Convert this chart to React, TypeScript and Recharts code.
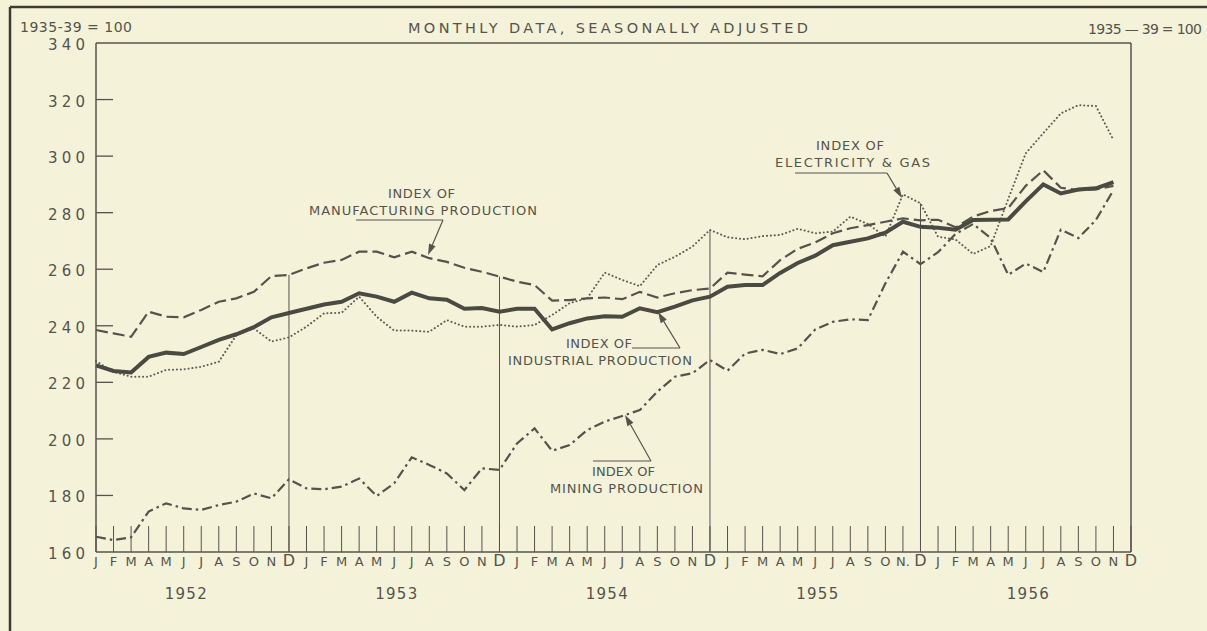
import React from "react";
import { LineChart, Line, XAxis, YAxis, ReferenceLine } from "recharts";

// 1935-39 = 100, monthly, seasonally adjusted (Jan 1952 - Dec 1956)
const YEARS = [1952, 1953, 1954, 1955, 1956];
const MONTH_LETTERS = ["J", "F", "M", "A", "M", "J", "J", "A", "S", "O", "N", "D"];
const Y_TICKS = [160, 180, 200, 220, 240, 260, 280, 300, 320, 340];

const industrial = [
  226, 224, 223.5, 229, 230.5, 230, 232.5, 235, 237, 239.5, 243, 244.5,
  246, 247.5, 248.5, 251.5, 250.3, 248.5, 251.7, 249.7, 249.2, 246, 246.3, 245,
  246, 246, 238.7, 240.9, 242.6, 243.4, 243.2, 246.2, 244.8, 246.8, 249, 250.3,
  253.8, 254.4, 254.4, 258.7, 262.2, 264.8, 268.5, 269.7, 270.9, 272.9, 276.8, 275,
  274.7, 274, 277.4, 277.5, 277.6, 284, 290, 286.8, 288.2, 288.6, 290.8, null,
];

const manufacturing = [
  238.5, 237.3, 236.1, 245, 243.2, 243, 245.6, 248.5, 249.7, 252, 257.6, 258,
  260.3, 262.3, 263.3, 266.2, 266.2, 264.2, 266.2, 263.9, 262.6, 260.5, 259.1, 257.4,
  255.6, 254.4, 248.9, 249.1, 249.7, 250, 249.4, 252, 250, 251.5, 252.6, 253.2,
  258.8, 258.1, 257.5, 263.2, 267.2, 269.5, 272.7, 274.5, 275.6, 276.8, 278, 277.3,
  277.5, 274.8, 278.6, 280.6, 281.6, 289.5, 295, 288.8, 288, 288.2, 289.5, null,
];

const electricity = [
  227.5, 223.7, 222, 222, 224.4, 224.6, 225.5, 227.3, 236.7, 239.1, 234.4, 235.9,
  239.7, 244.4, 244.6, 250.3, 243.2, 238.3, 238.3, 237.9, 242, 239.7, 239.7, 240.3,
  239.7, 240.3, 243.8, 248, 249.7, 258.8, 256.2, 254, 261.5, 264.4, 268, 273.9,
  271.3, 270.6, 271.7, 272.1, 274.3, 272.7, 273.3, 278.6, 276, 271.5, 286.5, 283.3,
  271.5, 270.5, 265.4, 268.2, 284.8, 301, 308.1, 315.1, 318, 317.7, 305.7, null,
];

const mining = [
  165.4, 164.2, 165.2, 174.3, 177.2, 175.4, 174.9, 176.6, 177.8, 180.7, 179, 185.7,
  182.5, 182.2, 183.1, 186, 179.8, 184.3, 193.5, 190.8, 187.8, 181.9, 189.6, 189,
  198.4, 203.7, 195.8, 197.8, 203.1, 206.1, 208.1, 210.2, 216.7, 222, 223.2, 227.9,
  224.1, 230.2, 231.5, 230, 232, 238.7, 241.4, 242.3, 242, 255, 266.2, 261.8,
  266, 272.5, 276, 271, 258, 262, 259, 274, 271, 277.4, 288, null,
];

const months = YEARS.flatMap((y) => MONTH_LETTERS.map((_, i) => `${y}-${i + 1}`));

const data = months.map((m, i) => ({
  month: m,
  industrial: industrial[i],
  manufacturing: manufacturing[i],
  electricity: electricity[i],
  mining: mining[i],
}));

const BG = "#f4f3da";
const INK = "#54544c";
const FONT = "'DejaVu Sans', sans-serif";

// December guide lines run from the base up to the highest series that month
const decemberLines = YEARS.slice(0, 4).map((y) => {
  const i = months.indexOf(`${y}-12`);
  const top = Math.max(industrial[i] ?? 0, manufacturing[i] ?? 0, electricity[i] ?? 0, mining[i] ?? 0);
  return { month: months[i], top };
});

function monthLabel(value: string) {
  if (value === "1955-11") return "N.";
  const mi = Number(value.split("-")[1]) - 1;
  return MONTH_LETTERS[mi];
}

function MonthTick(props: any) {
  const { x, y, payload } = props;
  const value: string = payload.value;
  const [year, mo] = value.split("-");
  const isDec = mo === "12";
  return (
    <g>
      <line x1={x} x2={x} y1={y} y2={y - 26} stroke={INK} strokeWidth={1} />
      <text
        x={x}
        y={y + 14}
        textAnchor="middle"
        fontFamily={FONT}
        fontSize={isDec ? 16 : 13}
        fill={INK}
      >
        {monthLabel(value)}
      </text>
      {mo === "6" && (
        <text x={x + 2} y={y + 47} textAnchor="middle" fontFamily={FONT} fontSize={15} fill={INK} textLength={42} lengthAdjust="spacing">
          {year}
        </text>
      )}
    </g>
  );
}

function LeftTick(props: any) {
  const { x, y, payload } = props;
  const v = payload.value;
  return (
    <g>
      {v > 160 && v < 340 && <line x1={x} x2={x + 17} y1={y} y2={y} stroke={INK} strokeWidth={1.3} />}
      <text x={x - 48} y={y + 7} fontFamily={FONT} fontSize={15} fill={INK} textLength={37} lengthAdjust="spacing">
        {v}
      </text>
    </g>
  );
}

function RightTick(props: any) {
  const { x, y, payload } = props;
  const v = payload.value;
  return (
    <g>
      {v > 160 && v < 340 && <line x1={x - 17} x2={x} y1={y} y2={y} stroke={INK} strokeWidth={1.3} />}
      <text x={x + 11} y={y + 7} fontFamily={FONT} fontSize={15} fill={INK} textLength={38} lengthAdjust="spacing">
        {v}
      </text>
    </g>
  );
}

function Arrow({ x1, y1, x2, y2 }: { x1: number; y1: number; x2: number; y2: number }) {
  const a = Math.atan2(y2 - y1, x2 - x1);
  const len = 11;
  const w = 3.5;
  const bx = x2 - len * Math.cos(a);
  const by = y2 - len * Math.sin(a);
  const px = -Math.sin(a) * w;
  const py = Math.cos(a) * w;
  return (
    <g>
      <line x1={x1} y1={y1} x2={bx} y2={by} stroke={INK} strokeWidth={1.2} />
      <polygon points={`${x2},${y2} ${bx + px},${by + py} ${bx - px},${by - py}`} fill={INK} />
    </g>
  );
}

function Label({ x, y, w, children, size = 13 }: any) {
  return (
    <text x={x} y={y} fontFamily={FONT} fontSize={size} fill={INK} textLength={w} lengthAdjust="spacing">
      {children}
    </text>
  );
}

function Overlay() {
  return (
    <svg width={1207} height={631} style={{ position: "absolute", left: 0, top: 0, pointerEvents: "none" }}>
      {/* page frame */}
      <line x1={10} y1={7} x2={10} y2={631} stroke="#3c3c36" strokeWidth={2.5} />
      <line x1={10} y1={7} x2={1207} y2={7} stroke="#3c3c36" strokeWidth={2.5} />

      <Label x={20} y={32} w={112} size={14}>1935-39 = 100</Label>
      <Label x={408} y={33} w={400} size={14.5}>MONTHLY DATA, SEASONALLY ADJUSTED</Label>
      <Label x={1088} y={34} w={114} size={14}>1935 — 39 = 100</Label>

      {/* manufacturing */}
      <Label x={388} y={198} w={67}>INDEX OF</Label>
      <Label x={309} y={215} w={228}>MANUFACTURING PRODUCTION</Label>
      <line x1={356} y1={220} x2={443} y2={220} stroke={INK} strokeWidth={1.2} />
      <Arrow x1={443} y1={220} x2={428} y2={255} />

      {/* industrial */}
      <Label x={566} y={348} w={66}>INDEX OF</Label>
      <Label x={508} y={365} w={184}>INDUSTRIAL PRODUCTION</Label>
      <line x1={632} y1={348} x2={680} y2={348} stroke={INK} strokeWidth={1.2} />
      <Arrow x1={680} y1={348} x2={658} y2={312} />

      {/* mining */}
      <Label x={592} y={476} w={63}>INDEX OF</Label>
      <Label x={550} y={493} w={153}>MINING PRODUCTION</Label>
      <line x1={593} y1={461} x2={651} y2={461} stroke={INK} strokeWidth={1.2} />
      <Arrow x1={651} y1={461} x2={625} y2={415} />

      {/* electricity & gas */}
      <Label x={816} y={150} w={68}>INDEX OF</Label>
      <Label x={775} y={167} w={155}>ELECTRICITY &amp; GAS</Label>
      <line x1={795} y1={173} x2={887} y2={173} stroke={INK} strokeWidth={1.2} />
      <Arrow x1={887} y1={173} x2={902} y2={198} />
    </svg>
  );
}

export default function App() {
  return (
    <div style={{ position: "absolute", left: 0, top: 0, width: 1207, height: 631, background: BG, overflow: "hidden" }}>
      <LineChart width={1207} height={631} data={data} margin={{ top: 43, right: 16, bottom: 29, left: 36 }}>
        <XAxis
          dataKey="month"
          interval={0}
          tickSize={0}
          tickMargin={0}
          tickLine={false}
          height={50}
          axisLine={{ stroke: INK, strokeWidth: 1.5 }}
          tick={<MonthTick />}
        />
        <YAxis
          yAxisId="left"
          domain={[160, 340]}
          ticks={Y_TICKS}
          width={60}
          tickSize={0}
          tickMargin={0}
          tickLine={false}
          axisLine={{ stroke: INK, strokeWidth: 1.5 }}
          tick={<LeftTick />}
        />
        <YAxis
          yAxisId="right"
          orientation="right"
          domain={[160, 340]}
          ticks={Y_TICKS}
          width={60}
          tickSize={0}
          tickMargin={0}
          tickLine={false}
          axisLine={{ stroke: INK, strokeWidth: 1.5 }}
          tick={<RightTick />}
        />
        <ReferenceLine yAxisId="left" y={340} stroke={INK} strokeWidth={1.5} />
        {decemberLines.map((d) => (
          <ReferenceLine
            key={d.month}
            yAxisId="left"
            segment={[
              { x: d.month, y: 160 },
              { x: d.month, y: d.top },
            ]}
            stroke={INK}
            strokeWidth={1}
          />
        ))}
        <Line yAxisId="left" dataKey="mining" stroke={INK} strokeWidth={2.2} strokeDasharray="10 4 2.5 4" dot={false} isAnimationActive={false} />
        <Line yAxisId="left" dataKey="electricity" stroke="#5e5e56" strokeWidth={2} strokeDasharray="0.1 3.8" strokeLinecap="round" dot={false} isAnimationActive={false} />
        <Line yAxisId="left" dataKey="manufacturing" stroke={INK} strokeWidth={2.2} strokeDasharray="12 5" dot={false} isAnimationActive={false} />
        <Line yAxisId="left" dataKey="industrial" stroke="#4a4a43" strokeWidth={4} dot={false} isAnimationActive={false} />
      </LineChart>
      <Overlay />
    </div>
  );
}
